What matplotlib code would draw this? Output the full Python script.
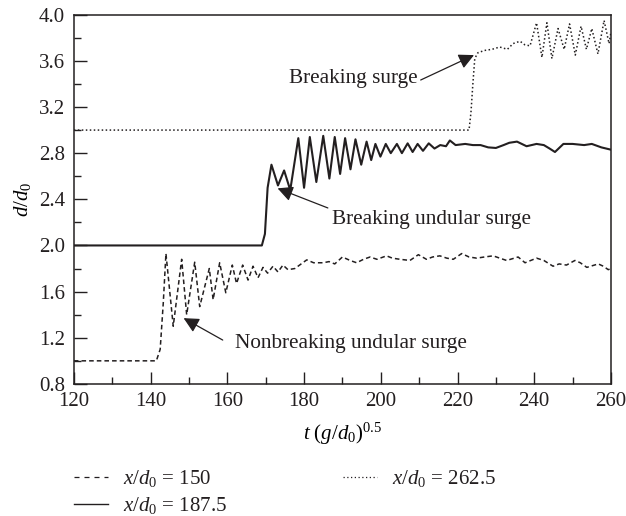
import matplotlib
matplotlib.use("Agg")
import matplotlib.pyplot as plt
from matplotlib.lines import Line2D
from matplotlib.ticker import MultipleLocator, FormatStrFormatter

# Free-surface records d/d0 against dimensionless time at three gauges
t_150 = [120, 141.5, 142.5, 143.3, 144.0, 145.9, 148.1, 149.4, 151.5, 152.8,
         155.3, 156.3, 158.0, 159.6, 161.3, 162.4, 164.0, 165.4, 166.7, 168.0,
         169.3, 170.5, 171.9, 173.2, 174.5, 175.8, 177.6, 180.7, 182.5, 185.0,
         186.5, 188.0, 190.0, 192.0, 193.7, 195.5, 197.2, 199.0, 201.5, 203.0,
         205.0, 207.6, 209.8, 211.9, 213.5, 215.4, 217.2, 218.9, 221.1, 223.0,
         225.0, 227.0, 229.3, 231.0, 232.8, 235.8, 237.6, 240.6, 242.5, 244.9,
         246.5, 248.4, 250.6, 252.0, 253.7, 256.7, 258.0, 259.3, 260]
d_150 = [1.0, 1.0, 1.1, 1.5, 1.93, 1.30, 1.88, 1.40, 1.855, 1.47,
         1.80, 1.53, 1.85, 1.59, 1.83, 1.67, 1.83, 1.70, 1.82, 1.72,
         1.81, 1.76, 1.82, 1.77, 1.83, 1.79, 1.80, 1.875, 1.85, 1.85,
         1.86, 1.84, 1.90, 1.87, 1.85, 1.88, 1.90, 1.88, 1.91, 1.89,
         1.88, 1.87, 1.92, 1.88, 1.90, 1.91, 1.89, 1.88, 1.93, 1.90,
         1.89, 1.90, 1.91, 1.89, 1.87, 1.90, 1.85, 1.89, 1.87, 1.82,
         1.84, 1.83, 1.87, 1.85, 1.81, 1.84, 1.82, 1.79, 1.80]

t_187 = [120, 169.0, 169.8, 170.5, 171.5, 173.2, 174.8, 176.4, 178.5, 180.0,
         181.5, 183.2, 185.0, 186.6, 188.0, 189.4, 190.7, 192.1, 193.4, 194.9,
         196.3, 197.5, 198.6, 199.9, 201.3, 202.6, 204.2, 205.5, 207.0, 208.3,
         209.6, 211.0, 212.5, 214.0, 215.5, 217.0, 218.0, 219.5, 222.0, 224.0,
         226.0, 228.0, 230.0, 232.0, 233.5, 235.5, 238.0, 240.6, 242.5, 244.0,
         245.4, 247.6, 250.0, 253.0, 255.0, 257.5, 260]
d_187 = [2.0, 2.0, 2.1, 2.5, 2.70, 2.52, 2.65, 2.48, 2.93, 2.50,
         2.94, 2.55, 2.95, 2.58, 2.94, 2.62, 2.93, 2.66, 2.92, 2.70,
         2.90, 2.74, 2.88, 2.77, 2.88, 2.80, 2.88, 2.80, 2.885, 2.81,
         2.88, 2.82, 2.885, 2.84, 2.87, 2.86, 2.91, 2.87, 2.88, 2.87,
         2.87, 2.85, 2.845, 2.87, 2.89, 2.90, 2.86, 2.88, 2.87, 2.84,
         2.81, 2.88, 2.88, 2.87, 2.88, 2.85, 2.83]

t_262 = [120, 223.0, 223.5, 224.0, 224.5, 225.3, 227.0, 229.0, 231.0, 233.0,
         234.5, 236.3, 237.5, 238.9, 240.6, 242.0, 243.3, 244.6, 246.2, 247.8,
         249.2, 250.7, 252.2, 253.6, 255.0, 256.6, 258.2, 259.5, 260]
d_262 = [3.0, 3.0, 3.15, 3.4, 3.62, 3.67, 3.69, 3.70, 3.72, 3.70,
         3.75, 3.77, 3.74, 3.73, 3.93, 3.63, 3.93, 3.62, 3.88, 3.70,
         3.92, 3.65, 3.90, 3.70, 3.88, 3.66, 3.95, 3.75, 3.85]

legend_labels = [r"$x/d_0$ = 150", r"$x/d_0$ = 187.5", r"$x/d_0$ = 262.5"]

INK = "#231f20"
plt.rcParams["font.family"] = "Liberation Serif"
plt.rcParams["mathtext.fontset"] = "custom"
plt.rcParams["mathtext.rm"] = "Liberation Serif"
plt.rcParams["mathtext.it"] = "Liberation Serif:italic"
plt.rcParams["text.color"] = INK

fig = plt.figure(figsize=(6.26, 5.16), dpi=100)
ax = fig.add_axes([0.118, 0.256, 0.858, 0.7155])

ax.plot(t_150, d_150, color=INK, lw=1.1, ls=(0, (3, 2)))
ax.plot(t_187, d_187, color=INK, lw=1.5, ls="-", solid_joinstyle="round")
ax.plot(t_262, d_262, color=INK, lw=1.1, ls=(0, (1, 1.6)))

ax.set_xlim(120, 260)
ax.set_ylim(0.8, 4.0)
ax.xaxis.set_major_locator(MultipleLocator(20))
ax.xaxis.set_minor_locator(MultipleLocator(10))
ax.yaxis.set_major_locator(MultipleLocator(0.4))
ax.yaxis.set_minor_locator(MultipleLocator(0.2))
ax.yaxis.set_major_formatter(FormatStrFormatter("%.1f"))
ax.tick_params(which="both", direction="in", colors=INK, labelsize=15,
               top=False, right=False, width=1.0)
ax.tick_params(which="major", length=9)
ax.tick_params(which="minor", length=5)
ax.tick_params(axis="x", pad=6)
ax.tick_params(axis="y", pad=6.5)
for sp in ax.spines.values():
    sp.set_color(INK)
    sp.set_linewidth(1.1)

ax.set_xlabel(r"$t\ (g/d_0)^{0.5}$", fontsize=15, labelpad=7)
ax.set_ylabel(r"$d/d_0$", fontsize=15, labelpad=4)

# annotations with filled arrow heads
arrow = dict(arrowstyle="-|>", color=INK, lw=0.9, mutation_scale=23,
             shrinkA=0, shrinkB=0)
ax.text(209.7, 3.406, "Breaking surge", fontsize=15.3, ha="right", va="baseline")
ax.annotate("", xy=(224.3, 3.65), xytext=(210.4, 3.434), arrowprops=arrow)
ax.text(187.3, 2.19, "Breaking undular surge", fontsize=15.3, ha="left", va="baseline")
ax.annotate("", xy=(173.1, 2.495), xytext=(186.2, 2.325), arrowprops=arrow)
ax.text(162.1, 1.109, "Nonbreaking undular surge", fontsize=15.3, ha="left", va="baseline")
ax.annotate("", xy=(148.6, 1.37), xytext=(158.8, 1.18), arrowprops=arrow)

handles = [
    Line2D([], [], color=INK, lw=0.9, ls=(0, (4, 4))),
    Line2D([], [], color=INK, lw=1.0, ls="-"),
    Line2D([], [], color=INK, lw=0.9, ls=(0, (1, 2))),
]
fig.legend(handles, legend_labels, loc="upper left", bbox_to_anchor=(0.118, 0.093),
           ncol=2, frameon=False, fontsize=15, handlelength=1.63,
           handletextpad=0.72, columnspacing=5.6, labelspacing=0.31,
           borderpad=0, borderaxespad=0)

fig.savefig("out.png", dpi=100)
